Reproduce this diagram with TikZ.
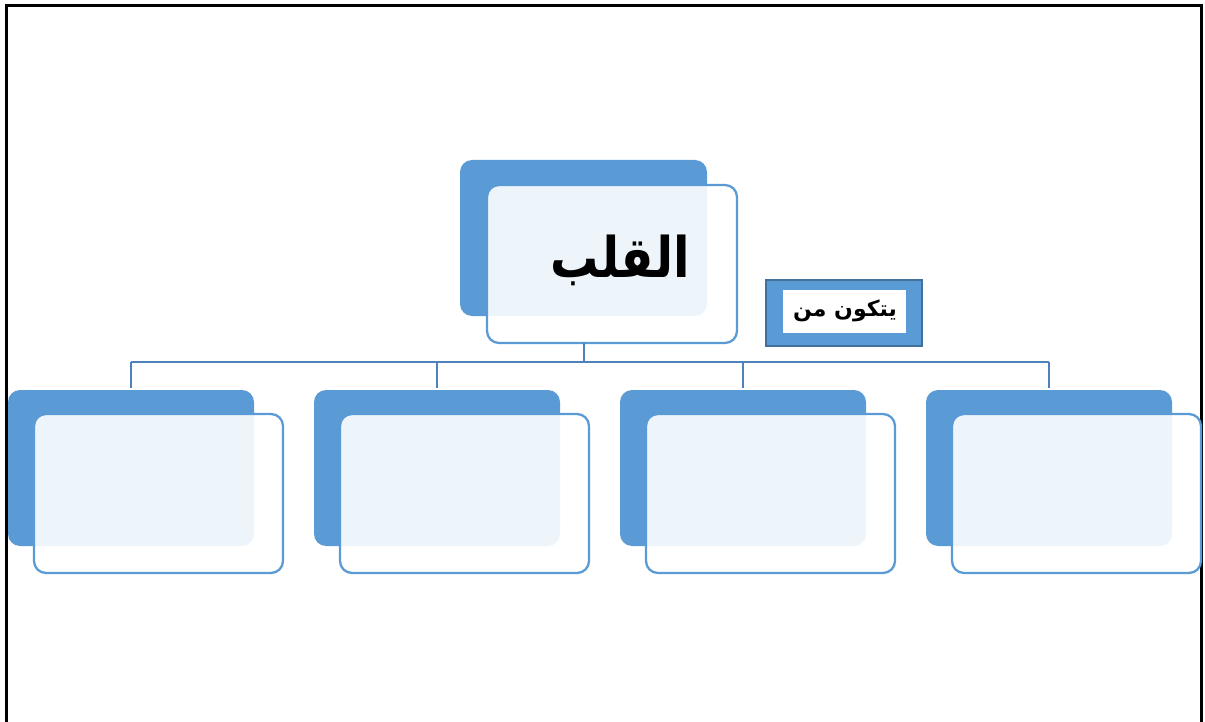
\documentclass[tikz,border=0pt]{standalone}
\usepackage{fontspec}
\newfontfamily\arabicfont[Script=Arabic]{DejaVu Sans}
\TeXXeTstate=1
\definecolor{backblue}{HTML}{5B9BD5}
\definecolor{edgeblue}{HTML}{5B9BD5}
\definecolor{linkblue}{HTML}{4F81BD}
\definecolor{tagedge}{HTML}{41719C}
\tikzset{
  backbox/.style={fill=backblue, rounded corners=12pt, draw=none},
  frontbox/.style={fill=white, fill opacity=0.9, draw=edgeblue, draw opacity=1, line width=2.3pt, rounded corners=12pt},
  link/.style={draw=linkblue, line width=2.5pt},
  frame/.style={draw=black, line width=3pt}
}
\begin{document}
\begin{tikzpicture}[x=1pt,y=-1pt]
\useasboundingbox (0,0) rectangle (1205,722);
% outer frame (open at bottom)
\draw[frame] (6,722) -- (6,6) -- (1201,6) -- (1201,722);

% top box
\fill[backbox] (460,160) rectangle (707,316);
\path[frontbox] (487,185) rectangle (737,343);
\node[inner sep=0pt, font=\arabicfont\bfseries\fontsize{56}{62}\selectfont] (root) at (620,260) {\scalebox{0.86}[1]{\beginR القلب\endR}};
\coordinate (rootb) at (584,343);

% bottom boxes
\foreach \i/\bx in {1/8, 2/314, 3/620, 4/926} {
  \fill[backbox] (\bx,390) rectangle ++(246,156);
  \path[frontbox] (\bx+26,414) rectangle ++(249,159);
}
\coordinate (c1) at (131,388);
\coordinate (c2) at (437,388);
\coordinate (c3) at (743,388);
\coordinate (c4) at (1049,388);

% connectors
\draw[link] (rootb) -- (584,362) coordinate (hub);
\draw[link] (131,362) -- (1049,362);
\draw[link] (131,362) -- (c1);
\draw[link] (437,362) -- (c2);
\draw[link] (743,362) -- (c3);
\draw[link] (1049,362) -- (c4);

% tag label
\path[fill=backblue, draw=tagedge, line width=2pt] (766,280) rectangle (922,346);
\fill[white] (783,290) rectangle (906,333);
\node[inner sep=0pt, font=\arabicfont\bfseries\fontsize{22}{26}\selectfont] (tag) at (845,311) {\beginR يتكون من\endR};
\end{tikzpicture}
\end{document}
